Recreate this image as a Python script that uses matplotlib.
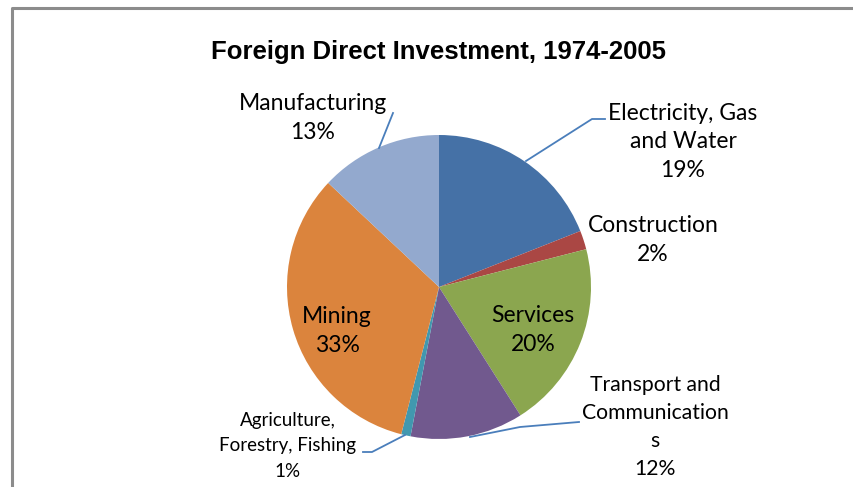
import matplotlib
matplotlib.use('Agg')
import matplotlib.pyplot as plt

# Data
title    = 'Foreign Direct Investment, 1974-2005'
sectors  = ['Electricity, Gas\nand Water', 'Construction', 'Services', 'Transport and\nCommunication\ns',
            'Agriculture,\nForestry, Fishing', 'Mining', 'Manufacturing']
shares   = [19, 2, 20, 12, 1, 33, 13]
colors   = ['#4571A6', '#AA4744', '#8BA64F', '#71598E', '#4198AF', '#DB843D', '#93A9CE']

W, H = 854, 487
def py(y):
    return H - y

fig = plt.figure(figsize=(W/100, H/100), dpi=100)
ax  = fig.add_axes([0, 0, 1, 1])

ax.pie(shares, colors=colors, startangle=90, counterclock=False,
       center=(439, py(287)), radius=152, wedgeprops=dict(linewidth=0))
ax.set_xlim(0, W)
ax.set_ylim(0, H)
ax.set_aspect('equal')
ax.axis('off')

# chart frame
ax.plot([12, 12, W], [0, py(8), py(8)], color='#8c8c8c', lw=2.2, solid_capstyle='butt')

ax.text(439, py(52), title, ha='center', va='center', fontsize=18.5, fontweight='bold',
        family='Liberation Sans')

font = 'Lato'
def label(x, y, s, size=16.5, spacing=1.43):
    ax.text(x, py(y), s, ha='center', va='center', fontsize=size, family=font,
            linespacing=spacing, color='black')

pct = [f'{v}%' for v in shares]
label(683, 142, f'{sectors[0]}\n{pct[0]}')
label(653, 240, f'{sectors[1]}\n{pct[1]}')
label(533, 330, f'{sectors[2]}\n{pct[2]}')
label(655, 427, f'{sectors[3]}\n{pct[3]}', size=15.2, spacing=1.49)
label(288, 446, f'{sectors[4]}\n{pct[4]}', size=13.5, spacing=1.58)
label(337, 331, f'{sectors[5]}\n{pct[5]}')
label(313, 118, f'{sectors[6]}\n{pct[6]}')

# leader lines
lc = '#4A7EBB'
ax.plot([605, 592, 526], [py(119), py(119), py(161)], color=lc, lw=1.3)
ax.plot([393, 379], [py(113), py(148)], color=lc, lw=1.3)
ax.plot([579, 520, 470], [py(422), py(427), py(437)], color=lc, lw=1.3)
ax.plot([363, 372, 405], [py(452), py(452), py(435)], color=lc, lw=1.3)

plt.savefig('out.png', dpi=100)
